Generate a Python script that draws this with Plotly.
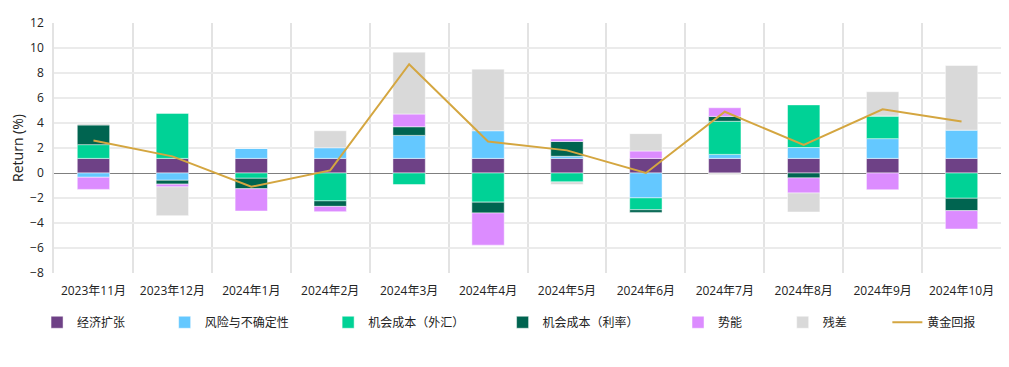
import plotly.graph_objects as go

months = ["2023年11月", "2023年12月", "2024年1月", "2024年2月", "2024年3月", "2024年4月",
          "2024年5月", "2024年6月", "2024年7月", "2024年8月", "2024年9月", "2024年10月"]

econ = [1.17, 1.17, 1.17, 1.17, 1.17, 1.17, 1.17, 1.17, 1.17, 1.17, 1.17, 1.17]
risk = [-0.34, -0.58, 0.80, 0.85, 1.84, 2.21, 0.17, -1.99, 0.32, 0.87, 1.58, 2.26]
fx = [1.10, 3.60, -0.42, -2.23, -0.92, -2.33, -0.71, -0.95, 2.65, 3.41, 1.81, -2.02]
rate = [1.57, -0.31, -0.84, -0.44, 0.69, -0.87, 1.18, -0.21, 0.39, -0.39, 0.0, -0.99]
momentum = [-0.97, -0.22, -1.78, -0.42, 1.02, -2.57, 0.21, 0.59, 0.69, -1.21, -1.34, -1.47]
residual = [0.13, -2.30, 0.0, 1.36, 4.95, 4.93, -0.21, 1.39, -0.13, -1.52, 1.94, 5.17]
gold = [2.6, 1.33, -1.1, 0.21, 8.7, 2.52, 1.81, 0.0, 4.9, 2.25, 5.1, 4.12]

series = [
    ("经济扩张", econ, "#6E4186"),
    ("风险与不确定性", risk, "#64C8FF"),
    ("机会成本（外汇）", fx, "#00D296"),
    ("机会成本（利率）", rate, "#006450"),
    ("势能", momentum, "#DC8CFF"),
    ("残差", residual, "#D9D9D9"),
]

# page has an 8px body margin, so the figure is offset by 8px
off = 8
text_px = [76, 204, 368, 543, 719, 824, 929]
plot_l, plot_w = 53 - off, 950

fig = go.Figure()
for i, (name, vals, col) in enumerate(series):
    lg = "legend" if i == 0 else f"legend{i+1}"
    fig.add_trace(go.Bar(x=months, y=vals, name=name, marker_color=col,
                         marker_line=dict(color="rgba(255,255,255,0.6)", width=0.8),
                         width=0.41, legend=lg))
fig.add_trace(go.Scatter(x=months, y=gold, name="黄金回报", mode="lines",
                         line=dict(color="#D4A640", width=2), legend="legend7"))

font = dict(family="Open Sans, Noto Sans CJK SC, sans-serif", size=12, color="#222222")
legends = {}
for i, tx in enumerate(text_px):
    key = "legend" if i == 0 else f"legend{i+1}"
    legends[key] = dict(x=(tx - off - 40 - plot_l) / plot_w, xanchor="left", y=-0.197, yanchor="middle",
                        orientation="h", font=dict(family="Noto Sans CJK SC, sans-serif", size=12, color="#222222"),
                        bgcolor="rgba(0,0,0,0)")

fig.update_layout(
    barmode="relative",
    width=1009 - off, height=367 - off,
    margin=dict(l=53 - off, r=6, t=19 - off, b=94),
    plot_bgcolor="white", paper_bgcolor="white",
    font=font,
    showlegend=True,
    **legends,
)
fig.update_xaxes(tickson="boundaries", showgrid=True, gridcolor="#E3E3E3", gridwidth=1.5,
                 ticks="", showline=False, ticklabelstandoff=9,
                 tickfont=dict(family="Open Sans, Noto Sans CJK SC, sans-serif", size=12))
fig.update_yaxes(range=[-8, 12], dtick=2, showgrid=True, gridcolor="#EBEBEB", gridwidth=1.5,
                 zeroline=True, zerolinecolor="#7F7F7F", zerolinewidth=1,
                 showline=True, linecolor="#E3E3E3", linewidth=1.5, mirror=True,
                 ticklabelstandoff=6,
                 title=dict(text="Return (%)", standoff=6), ticks="")

fig.write_html("out.html")
